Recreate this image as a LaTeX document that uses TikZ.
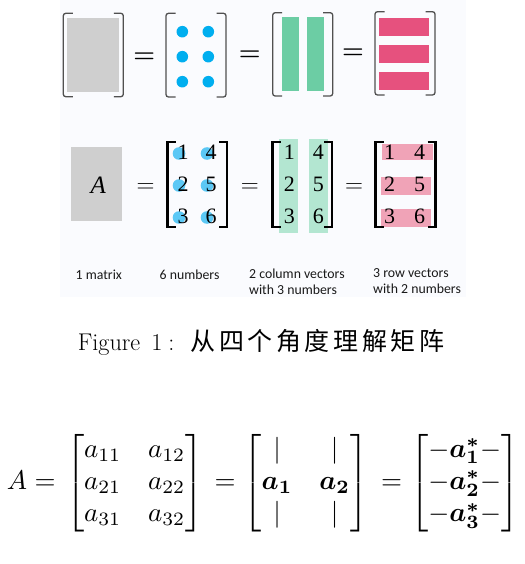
\documentclass[tikz,border=0pt]{standalone}
\usepackage{amsmath}
\usepackage{bm}
\usepackage{fontspec}
\newfontfamily\cjkfont{Noto Sans CJK SC}
\newfontfamily\labelfont{Carlito}
\newfontfamily\numfont{Liberation Serif}
\definecolor{panelbg}{RGB}{250,251,254}
\definecolor{gbox}{RGB}{207,207,207}
\definecolor{dotblue}{RGB}{0,174,239}
\definecolor{colgreen}{RGB}{108,205,164}
\definecolor{rowpink}{RGB}{230,81,126}
\definecolor{ldotblue}{RGB}{91,200,245}
\definecolor{lgreen}{RGB}{179,230,209}
\definecolor{lpink}{RGB}{240,163,183}
\definecolor{brgray}{RGB}{80,80,80}
\definecolor{labelcol}{RGB}{25,25,25}
\newcommand\mybracket[6]{%
  \draw[#1] (#2+#6,#4) -- (#2,#4) -- (#2,#5) -- (#2+#6,#5);
  \draw[#1] (#3-#6,#4) -- (#3,#4) -- (#3,#5) -- (#3-#6,#5);}
\begin{document}
\begin{tikzpicture}[x=1pt,y=-1pt,
  topbrk/.style={draw=brgray,line width=1.3pt,rounded corners=2.5pt},
  midbrk/.style={draw=black,line width=2.2pt},
  digit/.style={inner sep=0,font=\numfont\fontsize{22}{26}\selectfont},
  topeq/.style={inner sep=0,anchor=base,font=\fontsize{24}{28}\selectfont\boldmath},
  mideq/.style={inner sep=0,anchor=base,font=\fontsize{27}{32}\selectfont},
  lbl/.style={inner sep=0,anchor=base west,text=labelcol,font=\labelfont\fontsize{13.8}{16}\selectfont},
  eqn/.style={inner sep=0,anchor=base}]
\useasboundingbox (0,0) rectangle (524,564);
\fill[panelbg] (60,0) rectangle (466,297);

% ---- top row (pictograms)
\fill[gbox] (67.3,18.3) rectangle (119,91.7);
\mybracket{topbrk}{63.3}{123.3}{13.3}{96.7}{9.5}
\node[topeq] (te1) at (144.2,62.7) {$=$};
\foreach \x in {182.3,208.3}
  \foreach \y in {31.7,56.7,81.7}
    \fill[dotblue] (\x,\y) circle[radius=5.8pt];
\mybracket{topbrk}{166}{226}{13.3}{97}{9.5}
\node[topeq] (te2) at (249.8,60.5) {$=$};
\fill[colgreen] (282.3,17.3) rectangle (299,91);
\fill[colgreen] (307.3,17.3) rectangle (324,91);
\mybracket{topbrk}{272.7}{332.7}{12.7}{96}{9.5}
\node[topeq] (te3) at (353,58.2) {$=$};
\fill[rowpink] (379,18.3) rectangle (429.3,35.7);
\fill[rowpink] (379,45) rectangle (429.3,62.7);
\fill[rowpink] (379,71.7) rectangle (429.3,90);
\mybracket{topbrk}{375}{435}{11.7}{95}{9.5}

% ---- middle row (numbers)
\fill[gbox] (70.7,147.3) rectangle (122.3,221);
\node[inner sep=0,font=\numfont\itshape\fontsize{25}{30}\selectfont] (mA) at (98.3,185) {A};
\node[mideq] (me1) at (145.5,192.75) {$=$};
\foreach \x in {179,207}
  \foreach \y in {153.5,185.5,217.5}
    \fill[ldotblue] (\x,\y) circle[radius=6.3pt];
\mybracket{midbrk}{167.5}{227.2}{141.7}{226.7}{8}
\node[digit] (a1) at (183,152.5) {1};
\node[digit] (a4) at (211,152.5) {4};
\node[digit] (a2) at (183,184.7) {2};
\node[digit] (a5) at (211,184.7) {5};
\node[digit] (a3) at (183,216.5) {3};
\node[digit] (a6) at (211,216.5) {6};
\node[mideq] (me2) at (249.8,192.75) {$=$};
\fill[lgreen] (279.3,139.5) rectangle (298.3,232.7);
\fill[lgreen] (309.3,139.5) rectangle (327.7,232.7);
\mybracket{midbrk}{272.5}{332.2}{141.7}{226.7}{8}
\node[digit] (b1) at (289.3,152.5) {1};
\node[digit] (b4) at (318.3,152.5) {4};
\node[digit] (b2) at (289.3,184.7) {2};
\node[digit] (b5) at (318.3,184.7) {5};
\node[digit] (b3) at (289.3,216.5) {3};
\node[digit] (b6) at (318.3,216.5) {6};
\node[mideq] (me3) at (354,192.75) {$=$};
\fill[lpink] (382.3,144) rectangle (432.5,160.5);
\fill[lpink] (381,177.3) rectangle (431,194.5);
\fill[lpink] (381,209.3) rectangle (431,226.7);
\mybracket{midbrk}{375.5}{435.5}{141.7}{226.7}{8}
\node[digit] (c1) at (389.5,152.5) {1};
\node[digit] (c4) at (419.5,152.5) {4};
\node[digit] (c2) at (389.5,184.7) {2};
\node[digit] (c5) at (419.5,184.7) {5};
\node[digit] (c3) at (389.5,216.5) {3};
\node[digit] (c6) at (419.5,216.5) {6};

% ---- labels
\node[lbl] (l1) at (75.5,279) {1 matrix};
\node[lbl] (l2) at (159.5,279) {6 numbers};
\node[lbl] (l3) at (249,278.5) {2 column vectors};
\node[lbl] (l3b) at (249,294.5) {with 3 numbers};
\node[lbl] (l4) at (373,277.5) {3 row vectors};
\node[lbl] (l4b) at (373,293.5) {with 2 numbers};

% ---- caption
\node[inner sep=0,anchor=base west,font=\fontsize{24.2}{29}\selectfont] (cap) at (77.6,350)
  {Figure\hspace{11pt}1\hspace{6pt}:\hspace{16pt}{\cjkfont\fontsize{25}{30}\selectfont 从\hspace{3.6pt}四\hspace{3.6pt}个\hspace{3.6pt}角\hspace{3.6pt}度\hspace{3.6pt}理\hspace{3.6pt}解\hspace{3.6pt}矩\hspace{3.6pt}阵}};

% ---- lower equation
\node[eqn] (eA) at (17,489.7) {\scalebox{2.7}{$A$}};
\node[eqn] (eq1) at (45,489.7) {\scalebox{2.7}{$=$}};
\node[eqn] (m1) at (134.7,489.7) {\scalebox{2.7}{$\begin{bmatrix} a_{11} & a_{12}\\ a_{21} & a_{22}\\ a_{31} & a_{32}\end{bmatrix}$}};
\node[eqn] (eq2) at (225,489.7) {\scalebox{2.7}{$=$}};
\node[eqn] (m2) at (305.9,489.7) {\scalebox{2.7}{$\begin{bmatrix} \vert & \vert\\ \bm{a_1} & \bm{a_2}\\ \vert & \vert\end{bmatrix}$}};
\node[eqn] (eq3) at (391.7,489.7) {\scalebox{2.7}{$=$}};
\node[eqn] (m3) at (464.7,489.7) {\scalebox{2.7}{$\begin{bmatrix} -\bm{a_1^*}- \\ -\bm{a_2^*}- \\ -\bm{a_3^*}- \end{bmatrix}$}};
\end{tikzpicture}
\end{document}
